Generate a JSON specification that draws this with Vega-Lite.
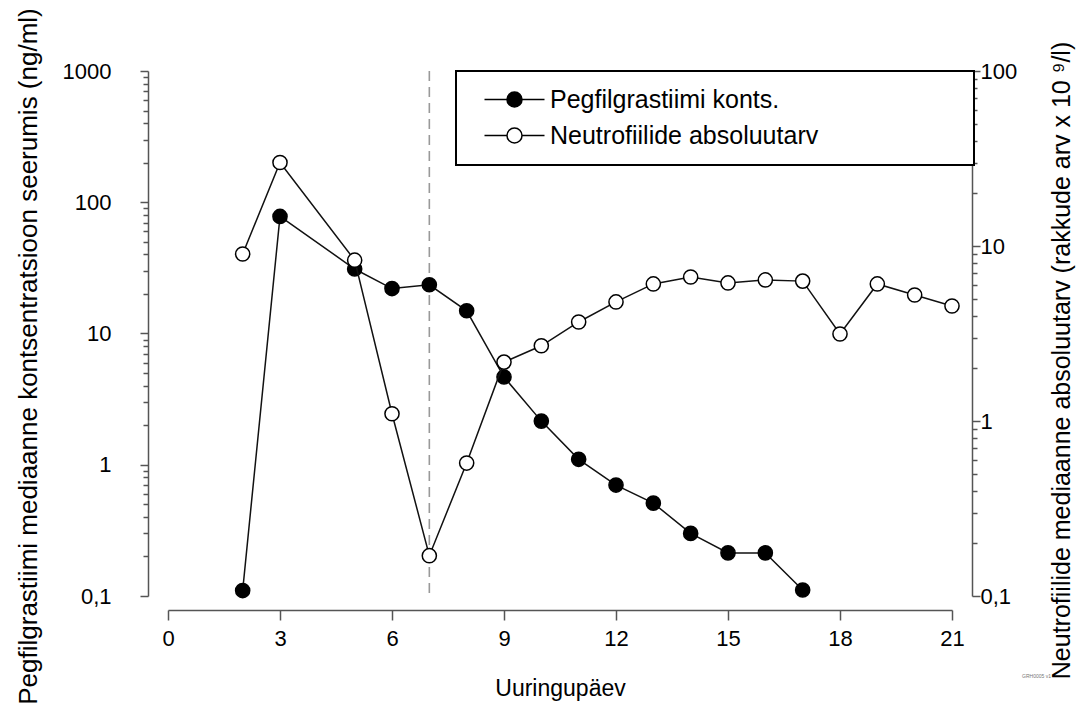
{
  "$schema": "https://vega.github.io/schema/vega-lite/v6.json",
  "width": 784,
  "height": 525,
  "autosize": {"type": "none"},
  "padding": {"left": 168, "top": 71, "right": 124, "bottom": 119},
  "background": "white",
  "title": {"text": "GRH0005 v1", "orient": "bottom", "anchor": "end", "frame": "group", "fontSize": 5, "fontWeight": "normal", "color": "#777", "dx": 99, "offset": -30, "font": "Liberation Sans"},
  "config": {
    "view": {"stroke": null},
    "font": "Liberation Sans, Arial, sans-serif",
    "axis": {
      "grid": false,
      "domainColor": "#555",
      "domainWidth": 1.5,
      "tickColor": "#555",
      "tickWidth": 1.5,
      "labelColor": "#000",
      "titleColor": "#000",
      "labelFont": "Liberation Sans, Arial, sans-serif",
      "titleFont": "Liberation Sans, Arial, sans-serif",
      "labelFontSize": 22,
      "titleFontSize": 26,
      "titleFontWeight": "normal",
      "labelOverlap": false,
      "labelFlush": false
    }
  },
  "data": {
    "values": [
      {"day": 2, "value": 0.11, "series": "Pegfilgrastiimi konts."},
      {"day": 3, "value": 78, "series": "Pegfilgrastiimi konts."},
      {"day": 5, "value": 31, "series": "Pegfilgrastiimi konts."},
      {"day": 6, "value": 22, "series": "Pegfilgrastiimi konts."},
      {"day": 7, "value": 23.5, "series": "Pegfilgrastiimi konts."},
      {"day": 8, "value": 14.9, "series": "Pegfilgrastiimi konts."},
      {"day": 9, "value": 4.66, "series": "Pegfilgrastiimi konts."},
      {"day": 10, "value": 2.15, "series": "Pegfilgrastiimi konts."},
      {"day": 11, "value": 1.1, "series": "Pegfilgrastiimi konts."},
      {"day": 12, "value": 0.7, "series": "Pegfilgrastiimi konts."},
      {"day": 13, "value": 0.51, "series": "Pegfilgrastiimi konts."},
      {"day": 14, "value": 0.3, "series": "Pegfilgrastiimi konts."},
      {"day": 15, "value": 0.213, "series": "Pegfilgrastiimi konts."},
      {"day": 16, "value": 0.213, "series": "Pegfilgrastiimi konts."},
      {"day": 17, "value": 0.111, "series": "Pegfilgrastiimi konts."},
      {"day": 2, "value": 9.0, "series": "Neutrofiilide absoluutarv"},
      {"day": 3, "value": 30, "series": "Neutrofiilide absoluutarv"},
      {"day": 5, "value": 8.3, "series": "Neutrofiilide absoluutarv"},
      {"day": 6, "value": 1.1, "series": "Neutrofiilide absoluutarv"},
      {"day": 7, "value": 0.17, "series": "Neutrofiilide absoluutarv"},
      {"day": 8, "value": 0.575, "series": "Neutrofiilide absoluutarv"},
      {"day": 9, "value": 2.17, "series": "Neutrofiilide absoluutarv"},
      {"day": 10, "value": 2.69, "series": "Neutrofiilide absoluutarv"},
      {"day": 11, "value": 3.68, "series": "Neutrofiilide absoluutarv"},
      {"day": 12, "value": 4.79, "series": "Neutrofiilide absoluutarv"},
      {"day": 13, "value": 6.07, "series": "Neutrofiilide absoluutarv"},
      {"day": 14, "value": 6.65, "series": "Neutrofiilide absoluutarv"},
      {"day": 15, "value": 6.15, "series": "Neutrofiilide absoluutarv"},
      {"day": 16, "value": 6.4, "series": "Neutrofiilide absoluutarv"},
      {"day": 17, "value": 6.3, "series": "Neutrofiilide absoluutarv"},
      {"day": 18, "value": 3.14, "series": "Neutrofiilide absoluutarv"},
      {"day": 19, "value": 6.07, "series": "Neutrofiilide absoluutarv"},
      {"day": 20, "value": 5.25, "series": "Neutrofiilide absoluutarv"},
      {"day": 21, "value": 4.54, "series": "Neutrofiilide absoluutarv"}
    ]
  },
  "layer": [
    {
      "layer": [
        {
          "data": {"values": [{"day": 7}]},
          "mark": {"type": "rule", "color": "#999999", "strokeWidth": 1.6, "strokeDash": [10, 6]},
          "encoding": {
            "x": {
              "field": "day",
              "type": "quantitative",
              "scale": {"domain": [0, 21], "nice": false, "zero": false},
              "axis": {
                "title": "Uuringupäev",
                "titleFontSize": 23,
                "values": [0, 3, 6, 9, 12, 15, 18, 21],
                "offset": 14,
                "tickSize": 10,
                "labelPadding": 8,
                "titlePadding": 28
              }
            }
          }
        },
        {
          "transform": [{"filter": "datum.series == 'Pegfilgrastiimi konts.'"}],
          "mark": {"type": "line", "color": "#111", "strokeWidth": 1.5},
          "encoding": {
            "x": {"field": "day", "type": "quantitative"},
            "y": {
              "field": "value",
              "type": "quantitative",
              "scale": {"type": "log", "domain": [0.1, 1000], "nice": false},
              "axis": {
                "orient": "left",
                "title": "Pegfilgrastiimi mediaanne kontsentratsioon seerumis (ng/ml)",
                "offset": 20,
                "values": [0.1, 0.2, 0.3, 0.4, 0.5, 0.6, 0.7, 0.8, 0.9, 1, 2, 3, 4, 5, 6, 7, 8, 9, 10, 20, 30, 40, 50, 60, 70, 80, 90, 100, 200, 300, 400, 500, 600, 700, 800, 900, 1000],
                "labelExpr": "datum.value == 0.1 ? '0,1' : (indexof([1, 10, 100, 1000], datum.value) >= 0 ? format(datum.value, 'd') : '')",
                "tickSize": {"condition": {"test": "indexof([0.1, 1, 10, 100, 1000], datum.value) >= 0", "value": 8}, "value": 5},
                "labelPadding": 29,
                "titleX": -120,
                "titleY": 285,
                "titleAngle": 270,
                "titleAlign": "center",
                "titleBaseline": "middle"
              }
            }
          }
        },
        {
          "transform": [{"filter": "datum.series == 'Pegfilgrastiimi konts.'"}],
          "mark": {"type": "point", "shape": "circle", "filled": true, "size": 200, "stroke": "#000", "strokeWidth": 1.5, "opacity": 1},
          "encoding": {
            "x": {"field": "day", "type": "quantitative"},
            "y": {"field": "value", "type": "quantitative"},
            "fill": {
              "field": "series",
              "type": "nominal",
              "scale": {"domain": ["Pegfilgrastiimi konts.", "Neutrofiilide absoluutarv"], "range": ["#000000", "#ffffff"]},
              "legend": {
                "orient": "none",
                "legendX": 288,
                "legendY": 0,
                "title": "\u00a0",
                "titleOrient": "right",
                "titlePadding": 140,
                "titleFontSize": 25,
                "padding": 16,
                "rowPadding": 10,
                "symbolType": "M -3.75 0 L -0.94 0 M 0.94 0 L 3.75 0 M 0.94 0 A 0.94 0.94 0 1 1 -0.94 0 A 0.94 0.94 0 1 1 0.94 0 Z",
                "symbolSize": 256,
                "symbolStrokeColor": "#000",
                "symbolStrokeWidth": 1.5,
                "symbolOpacity": 1,
                "symbolOffset": 30,
                "labelOffset": 23,
                "labelFontSize": 25,
                "labelFont": "Liberation Sans, Arial, sans-serif",
                "labelColor": "#000",
                "labelLimit": 400,
                "strokeColor": "#000",
                "fillColor": "#fff",
                "encode": {"legend": {"update": {"strokeWidth": {"value": 2}}}}
              }
            }
          }
        }
      ]
    },
    {
      "layer": [
        {
          "transform": [{"filter": "datum.series == 'Neutrofiilide absoluutarv'"}],
          "mark": {"type": "line", "color": "#111", "strokeWidth": 1.5},
          "encoding": {
            "x": {"field": "day", "type": "quantitative"},
            "y": {
              "field": "value",
              "type": "quantitative",
              "scale": {"type": "log", "domain": [0.1, 100], "nice": false},
              "axis": {
                "orient": "right",
                "title": "Neutrofiilide mediaanne absoluutarv (rakkude arv x 10 \u2079/l)",
                "titleFontSize": 25,
                "offset": 20,
                "values": [0.1, 0.2, 0.3, 0.4, 0.5, 0.6, 0.7, 0.8, 0.9, 1, 2, 3, 4, 5, 6, 7, 8, 9, 10, 20, 30, 40, 50, 60, 70, 80, 90, 100],
                "labelExpr": "datum.value == 0.1 ? '0,1' : (indexof([1, 10, 100], datum.value) >= 0 ? format(datum.value, 'd') : '')",
                "tickSize": {"condition": {"test": "indexof([0.1, 1, 10, 100], datum.value) >= 0", "value": 8}, "value": 5},
                "labelPadding": 0,
                "titleX": 89,
                "titleY": 289,
                "titleAngle": 270,
                "titleAlign": "center",
                "titleBaseline": "middle"
              }
            }
          }
        },
        {
          "transform": [{"filter": "datum.series == 'Neutrofiilide absoluutarv'"}],
          "mark": {"type": "point", "shape": "circle", "filled": true, "size": 200, "stroke": "#000", "strokeWidth": 1.5, "opacity": 1},
          "encoding": {
            "x": {"field": "day", "type": "quantitative"},
            "y": {"field": "value", "type": "quantitative"},
            "fill": {"field": "series", "type": "nominal"}
          }
        }
      ]
    }
  ],
  "resolve": {"scale": {"y": "independent"}}
}
